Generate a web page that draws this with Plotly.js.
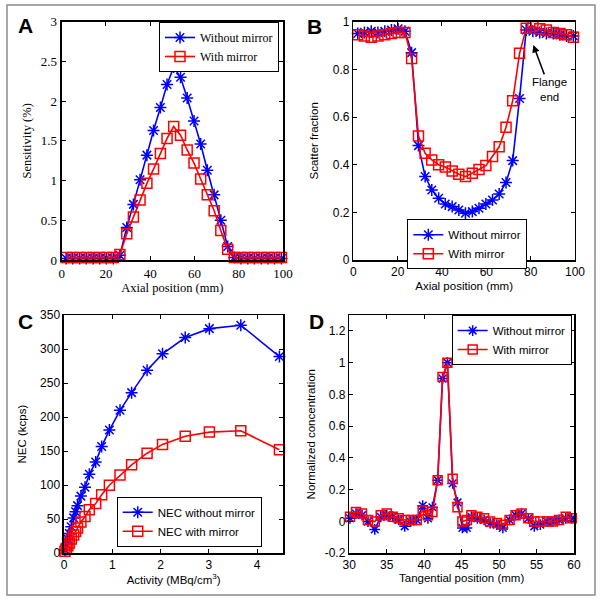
<!DOCTYPE html>
<html><head><meta charset="utf-8">
<script src="https://cdn.plot.ly/plotly-3.0.1.min.js"></script>
<style>html,body{margin:0;padding:0;background:#fff}#chart{width:602px;height:602px}</style>
</head><body><div id="chart"></div>
<script>
// ---- Panel A: sensitivity vs axial position ----
var axialPos = [2.0, 5.0, 8.1, 11.1, 14.2, 17.2, 20.2, 23.3, 26.3, 29.4, 32.4, 35.4, 38.5, 41.5, 44.6, 47.6, 50.6, 53.7, 56.7, 59.8, 62.8, 65.8, 68.9, 71.9, 75.0, 78.0, 81.0, 84.1, 87.1, 90.2, 93.2, 96.2, 99.3];
var sensWithout = [0.02, 0.02, 0.02, 0.02, 0.02, 0.02, 0.02, 0.02, 0.06, 0.41, 0.70, 1.01, 1.32, 1.63, 1.92, 2.21, 2.43, 2.30, 2.04, 1.75, 1.46, 1.13, 0.82, 0.50, 0.17, 0.03, 0.02, 0.02, 0.02, 0.02, 0.02, 0.02, 0.02];
var sensWith = [0.03, 0.03, 0.03, 0.03, 0.03, 0.03, 0.03, 0.03, 0.07, 0.33, 0.54, 0.755, 0.965, 1.145, 1.34, 1.53, 1.68, 1.57, 1.385, 1.22, 1.02, 0.82, 0.62, 0.37, 0.135, 0.03, 0.03, 0.03, 0.03, 0.03, 0.03, 0.03, 0.03];

// ---- Panel B: scatter fraction vs axial position ----
var sfWithout = [0.95, 0.955, 0.96, 0.955, 0.96, 0.965, 0.97, 0.96, 0.87, 0.48, 0.35, 0.294, 0.259, 0.235, 0.224, 0.21, 0.196, 0.203, 0.217, 0.235, 0.252, 0.277, 0.325, 0.417, 0.678, 0.965, 0.96, 0.955, 0.95, 0.95, 0.945, 0.94, 0.94];
var sfWith = [0.945, 0.94, 0.935, 0.94, 0.945, 0.95, 0.955, 0.955, 0.845, 0.52, 0.448, 0.42, 0.40, 0.39, 0.373, 0.36, 0.35, 0.364, 0.38, 0.396, 0.434, 0.475, 0.557, 0.668, 0.867, 0.972, 0.98, 0.97, 0.965, 0.955, 0.95, 0.945, 0.935];

// ---- Panel C: NEC vs activity ----
var activity = [0.02, 0.05, 0.08, 0.11, 0.15, 0.2, 0.24, 0.28, 0.35, 0.435, 0.524, 0.656, 0.78, 0.94, 1.16, 1.40, 1.72, 2.04, 2.51, 3.01, 3.66, 4.46];
var necWithout = [5, 13, 21, 29, 39, 52, 61, 70, 84, 97, 116, 134, 157, 181, 210, 236, 269, 293, 317, 330, 335, 289];
var necWith = [3, 7, 11, 15, 21, 27, 32, 37, 46, 54, 64, 73, 86, 100, 115, 130, 147, 160, 172, 178, 180, 152];

// ---- Panel D: normalized concentration vs tangential position ----
var tangPos = [30.1, 30.9, 31.7, 32.5, 33.4, 34.2, 35.0, 35.8, 36.6, 37.4, 38.2, 39.0, 39.8, 40.5, 41.1, 41.8, 42.45, 43.1, 43.8, 44.45, 45.1, 45.7, 46.3, 47.1, 48.0, 48.8, 49.7, 50.5, 51.4, 52.2, 53.0, 53.9, 54.7, 55.5, 56.4, 57.2, 58.0, 58.9, 59.7];
var concWith = [0.03, 0.06, 0.05, 0.01, 0.00, 0.04, 0.05, 0.03, 0.02, 0.01, 0.01, 0.01, 0.07, 0.04, 0.06, 0.26, 0.91, 1.00, 0.27, 0.09, 0.00, 0.01, 0.04, 0.03, 0.02, 0.00, -0.01, -0.02, 0.01, 0.04, 0.05, 0.02, 0.00, 0.00, 0.00, 0.00, 0.01, 0.03, 0.02];
var concWithout = [0.02, 0.05, 0.04, 0.00, -0.05, 0.03, 0.04, 0.03, 0.01, -0.03, 0.00, 0.01, 0.10, 0.02, 0.09, 0.26, 0.90, 1.00, 0.24, 0.12, -0.04, -0.04, 0.03, 0.02, 0.01, -0.01, -0.02, -0.04, 0.01, 0.04, 0.05, 0.02, -0.03, -0.02, 0.00, 0.00, 0.01, 0.02, 0.02];
var concTicks = [-0.2, 0, 0.2, 0.4, 0.6, 0.8, 1, 1.2];
var concTickText = ['-0.2', '0', '0.2', '0.4', '0.6', '0.8', '1', '1.2'];

var SERIF = 'Liberation Serif, Times New Roman, serif';
var SANS = 'Liberation Sans, Arial, sans-serif';
var BLUE = '#0000ff', RED = '#ff0000';

function blueTrace(x, y, name, xa, ya, lg, msize) {
  return {x: x, y: y, name: name, type: 'scatter', mode: 'lines+markers', xaxis: xa, yaxis: ya, legend: lg,
    cliponaxis: false,
    line: {color: BLUE, width: 1.6},
    marker: {symbol: 'asterisk-open', size: msize, color: BLUE, line: {color: BLUE, width: 1.5}}};
}
function redTrace(x, y, name, xa, ya, lg, msize) {
  return {x: x, y: y, name: name, type: 'scatter', mode: 'lines+markers', xaxis: xa, yaxis: ya, legend: lg,
    cliponaxis: false,
    line: {color: RED, width: 1.6},
    marker: {symbol: 'square-open', size: msize, color: RED, line: {color: RED, width: 1.5}}};
}

var data = [
  blueTrace(axialPos, sensWithout, 'Without mirror', 'x', 'y', 'legend', 10),
  redTrace(axialPos, sensWith, 'With mirror', 'x', 'y', 'legend', 10),
  blueTrace(axialPos, sfWithout, 'Without mirror', 'x2', 'y2', 'legend2', 10),
  redTrace(axialPos, sfWith, 'With mirror', 'x2', 'y2', 'legend2', 10),
  blueTrace(activity, necWithout, 'NEC without mirror', 'x3', 'y3', 'legend3', 10),
  redTrace(activity, necWith, 'NEC with mirror', 'x3', 'y3', 'legend3', 10),
  blueTrace(tangPos, concWithout, 'Without mirror', 'x4', 'y4', 'legend4', 9),
  redTrace(tangPos, concWith, 'With mirror', 'x4', 'y4', 'legend4', 9)
];

function axis(domain, range, dtick, family, size, lw, title, standoff, anchor) {
  return {domain: domain, range: range, dtick: dtick, tick0: 0, anchor: anchor,
    showline: true, linecolor: '#000', linewidth: lw, mirror: 'ticks',
    ticks: 'inside', ticklen: 4, tickwidth: 1, tickcolor: '#000',
    showgrid: false, zeroline: false, fixedrange: true,
    tickfont: {family: family, size: size, color: '#000'},
    title: {text: title, font: {family: family, size: size - 0.5, color: '#000'}, standoff: standoff}};
}

function legendBox(x, y, family, size) {
  return {x: x, y: y, xanchor: 'left', yanchor: 'top', xref: 'paper', yref: 'paper',
    bgcolor: '#fff', bordercolor: '#000', borderwidth: 1,
    font: {family: family, size: size, color: '#000'}, tracegroupgap: 0};
}

function letter(t, x, y) {
  return {text: t, x: x / 602, y: 1 - y / 602, xref: 'paper', yref: 'paper', showarrow: false,
    xanchor: 'center', yanchor: 'middle', font: {family: SANS, size: 21, color: '#000', weight: 'bold'}};
}

var yaxis4 = axis([0.0809, 0.4767], [-0.2, 1.3], 0.2, SANS, 12, 1.5, 'Normalized concentration', 6, 'x4');
yaxis4.tickmode = 'array';
yaxis4.tickvals = concTicks;
yaxis4.ticktext = concTickText;

var layout = {
  width: 602, height: 602,
  margin: {l: 0, r: 0, t: 0, b: 0},
  paper_bgcolor: '#fff', plot_bgcolor: '#fff',
  showlegend: true,
  xaxis: axis([0.1025, 0.4701], [0, 100], 20, SERIF, 13, 2, 'Axial position (mm)', 4, 'y'),
  yaxis: axis([0.5681, 0.9640], [0, 3], 0.5, SERIF, 13, 2, 'Sensitivity (%)', 6, 'x'),
  xaxis2: axis([0.5869, 0.9551], [0, 100], 20, SANS, 12, 1.5, 'Axial position (mm)', 4, 'y2'),
  yaxis2: axis([0.5681, 0.9640], [0, 1], 0.2, SANS, 12, 1.5, 'Scatter fraction', 11, 'x2'),
  xaxis3: axis([0.1063, 0.4706], [0, 4.54], 1, SANS, 12, 1.5, 'Activity (MBq/cm<sup>3</sup>)', 3, 'y3'),
  yaxis3: axis([0.0809, 0.4767], [0, 350], 50, SANS, 12, 1.5, 'NEC (kcps)', 11, 'x3'),
  xaxis4: axis([0.5802, 0.9535], [30, 60], 5, SANS, 12, 1.5, 'Tangential position (mm)', 3, 'y4'),
  yaxis4: yaxis4,
  legend: legendBox(0.2641, 0.9635, SERIF, 12),
  legend2: legendBox(0.6766, 0.6357, SANS, 11.5),
  legend3: legendBox(0.1939, 0.1749, SANS, 11.5),
  legend4: legendBox(0.7503, 0.4767, SANS, 11.5),
  shapes: [{type: 'rect', xref: 'paper', yref: 'paper', x0: 7 / 602, x1: 595 / 602, y0: 1 - 595 / 602, y1: 1 - 5 / 602,
    line: {color: '#8c8c8c', width: 1.5}, fillcolor: 'rgba(0,0,0,0)'}],
  annotations: [
    letter('A', 25.5, 26),
    letter('B', 314, 26.5),
    letter('C', 25, 321),
    letter('D', 316, 321.5),
    {x: 81.2, y: 0.902, xref: 'x2', yref: 'y2', ax: 88.7, ay: 0.716, axref: 'x2', ayref: 'y2',
      text: 'Flange<br>end', showarrow: true, arrowhead: 2, arrowsize: 1, arrowwidth: 1.5, arrowcolor: '#000',
      font: {family: SANS, size: 11.5, color: '#000'}}
  ]
};

Plotly.newPlot('chart', data, layout, {staticPlot: true, displayModeBar: false});
</script></body></html>
